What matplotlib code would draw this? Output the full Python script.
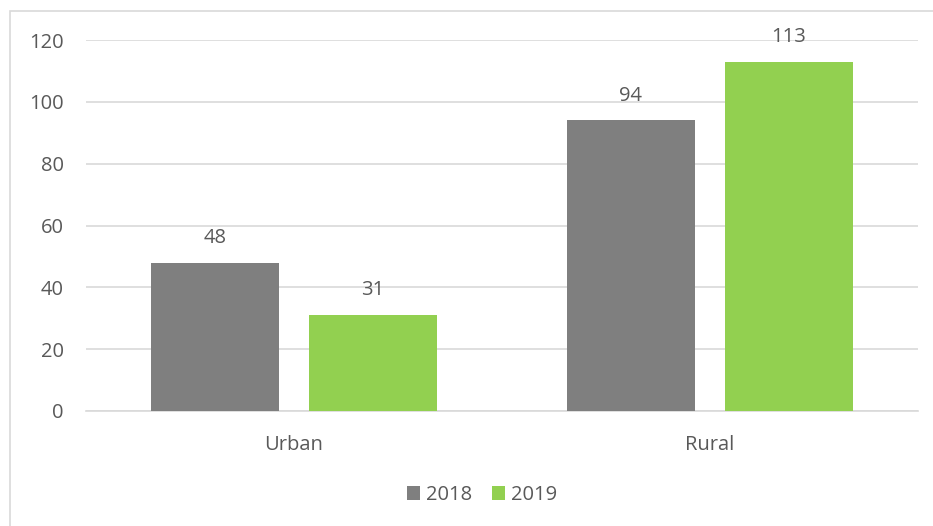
import matplotlib.pyplot as plt
import numpy as np
from matplotlib.patches import Rectangle

plt.rcParams['font.family'] = ['Open Sans', 'DejaVu Sans']

# data
categories = ['Urban', 'Rural']
years = ['2018', '2019']
values_2018 = [48, 94]
values_2019 = [31, 113]
colors = ['#7f7f7f', '#92d050']
text_color = '#595959'
fs = 14.5

fig = plt.figure(figsize=(9.33, 5.26), dpi=100)
ax = fig.add_axes([86 / 933, 1 - 411 / 526, 832 / 933, 371 / 526])

# outer chart border
fig.patches.append(Rectangle((10 / 933, -0.1), 1.2, 1 - 11 / 526 + 0.1,
                             transform=fig.transFigure, fill=False,
                             edgecolor='#d9d9d9', linewidth=1.2))

x = np.arange(len(categories))
width = 0.308
offset = 0.19
for i, (vals, col, yr) in enumerate(zip([values_2018, values_2019], colors, years)):
    pos = x + (offset if i else -offset)
    bars = ax.bar(pos, vals, width, color=col, label=yr, zorder=3)
    for b, v in zip(bars, vals):
        ax.text(b.get_x() + b.get_width() / 2, v + 8.0, str(v),
                ha='center', va='center', fontsize=fs, color=text_color)

ax.set_xlim(-0.5, 1.5)
ax.set_ylim(0, 120)
ax.set_yticks(range(0, 121, 20))
ax.yaxis.grid(True, color='#d9d9d9', linewidth=1.2, zorder=0)
ax.set_xticks(x)
ax.set_xticklabels(categories)
ax.tick_params(axis='both', length=0, labelsize=fs, colors=text_color)
ax.tick_params(axis='y', pad=16)
ax.tick_params(axis='x', pad=17.5)
for s in ['top', 'right', 'left']:
    ax.spines[s].set_visible(False)
ax.spines['bottom'].set_color('#d9d9d9')
ax.spines['bottom'].set_linewidth(1.2)

leg = fig.legend(loc='center', bbox_to_anchor=(482 / 933, 1 - 495 / 526), ncol=2,
                 frameon=False, fontsize=fs, handlelength=0.65, handleheight=0.65,
                 handletextpad=0.3, columnspacing=1.0)
for t in leg.get_texts():
    t.set_color(text_color)

fig.savefig('out.png', dpi=100)
